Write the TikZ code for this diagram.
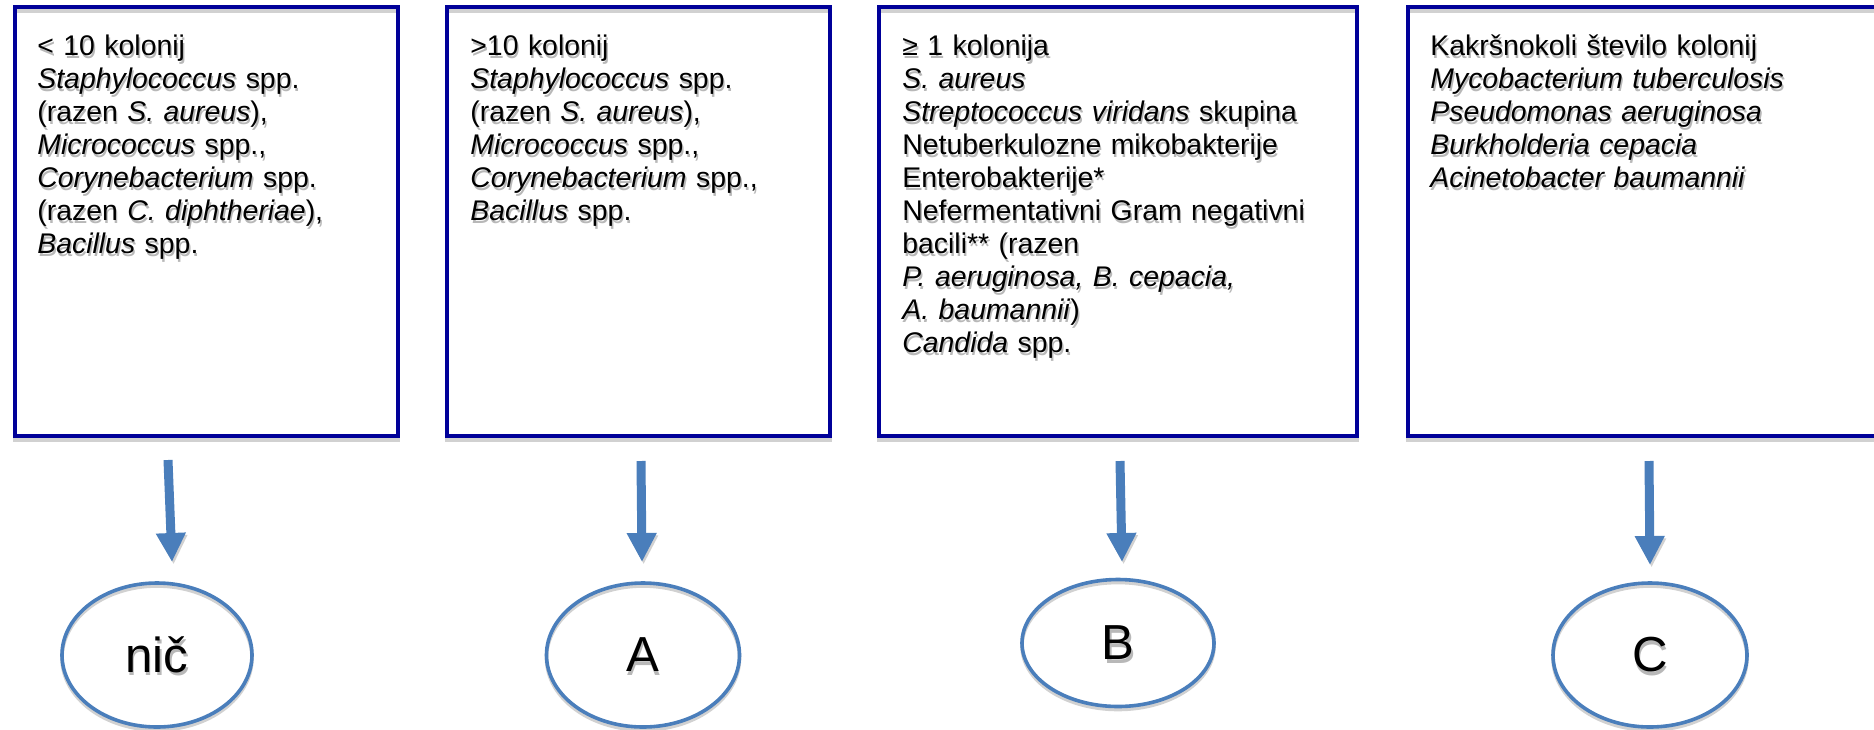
\documentclass[tikz,border=0pt]{standalone}
\usepackage{fontspec}
\setmainfont{Liberation Sans}
\usetikzlibrary{shapes.geometric,arrows.meta,calc}

\definecolor{boxblue}{RGB}{0,0,153}
\definecolor{arrblue}{RGB}{74,126,187}

\newcommand{\shtxt}[4][txt]{%
  \node[#1, ghost] (#2-s) at (#3) {#4};
  \node[#1] (#2) at (#3) {#4};}

\begin{document}
\begin{tikzpicture}[x=0.5pt,y=-0.5pt]
\tikzstyle{panel}=[draw=boxblue, line width=1.7pt, anchor=north west, inner sep=0pt, outer sep=0pt, minimum height=214.5pt,
  preaction={draw=black!18, line width=2pt, transform canvas={yshift=-2pt}}]
\tikzstyle{oval}=[ellipse, draw=arrblue, line width=1.8pt, inner sep=0pt, outer sep=0pt,
  preaction={draw=black!18, line width=1.8pt, transform canvas={yshift=-1.5pt}}]
\tikzstyle{arr}=[arrblue, line width=4.5pt, -{Triangle[width=14pt,length=14.5pt]},
  preaction={draw=black!18, transform canvas={shift={(0.8pt,-1.2pt)}}}]
\tikzstyle{txt}=[anchor=base west, align=left, text width=240pt, inner sep=0pt, font=\fontsize{14.2}{16.5}\selectfont]
\tikzstyle{lbl}=[inner sep=0pt, font=\fontsize{24.6}{28}\selectfont]
\tikzstyle{ghost}=[text=black!28, xshift=0.7pt, yshift=-1.6pt]

\useasboundingbox (0,0) rectangle (1874,729);
\clip (0,0) rectangle (1874,729);

\node[panel, minimum width=191.5pt] (box1) at (15,7) {};
\node[panel, minimum width=191.5pt] (box2) at (447,7) {};
\node[panel, minimum width=239pt] (box3) at (879,7) {};
\node[panel, minimum width=242pt] (box4) at (1408,7) {};

\shtxt{t1}{$(box1.north west)+(22,48)$}{< 10 kolonij\\
\textit{Staphylococcus} spp.\\
(razen \textit{S. aureus}),\\
\textit{Micrococcus} spp.,\\
\textit{Corynebacterium} spp.\\
(razen \textit{C. diphtheriae}),\\
\textit{Bacillus} spp.}
\shtxt{t2}{$(box2.north west)+(23,48)$}{>10 kolonij\\
\textit{Staphylococcus} spp.\\
(razen \textit{S. aureus}),\\
\textit{Micrococcus} spp.,\\
\textit{Corynebacterium} spp.,\\
\textit{Bacillus} spp.}
\shtxt{t3}{$(box3.north west)+(23,48)$}{≥ 1 kolonija\\
\textit{S. aureus}\\
\textit{Streptococcus viridans} skupina\\
Netuberkulozne mikobakterije\\
Enterobakterije*\\
Nefermentativni Gram negativni\\
bacili** (razen\\
\textit{P. aeruginosa, B. cepacia,}\\
\textit{A. baumannii})\\
\textit{Candida} spp.}
\shtxt{t4}{$(box4.north west)+(22,48)$}{Kakršnokoli število kolonij\\
\textit{Mycobacterium tuberculosis}\\
\textit{Pseudomonas aeruginosa}\\
\textit{Burkholderia cepacia}\\
\textit{Acinetobacter baumannii}}

\node[oval, minimum width=95pt, minimum height=72pt] (ell1) at (157,655) {};
\node[oval, minimum width=96.5pt, minimum height=72pt] (ell2) at (643,655) {};
\node[oval, minimum width=96pt, minimum height=63.5pt] (ell3) at (1118,643) {};
\node[oval, minimum width=97pt, minimum height=72pt] (ell4) at (1650,655) {};

\shtxt[lbl]{l1}{ell1}{nič}
\shtxt[lbl]{l2}{ell2}{A}
\shtxt[lbl]{l3}{ell3}{B}
\shtxt[lbl]{l4}{ell4}{C}

\draw[arr] ($(box1.south west)+(153,24)$) -- ($(ell1.north)+(15,-21)$);
\draw[arr] ($(box2.south)+(2.5,25)$) -- ($(ell2.north)+(-1,-21)$);
\draw[arr] ($(box3.south)+(2,25)$) -- ($(ell3.north)+(4,-17.5)$);
\draw[arr] ($(box4.south)+(-1,25)$) -- ($(ell4.north)+(0,-18)$);
\end{tikzpicture}
\end{document}
